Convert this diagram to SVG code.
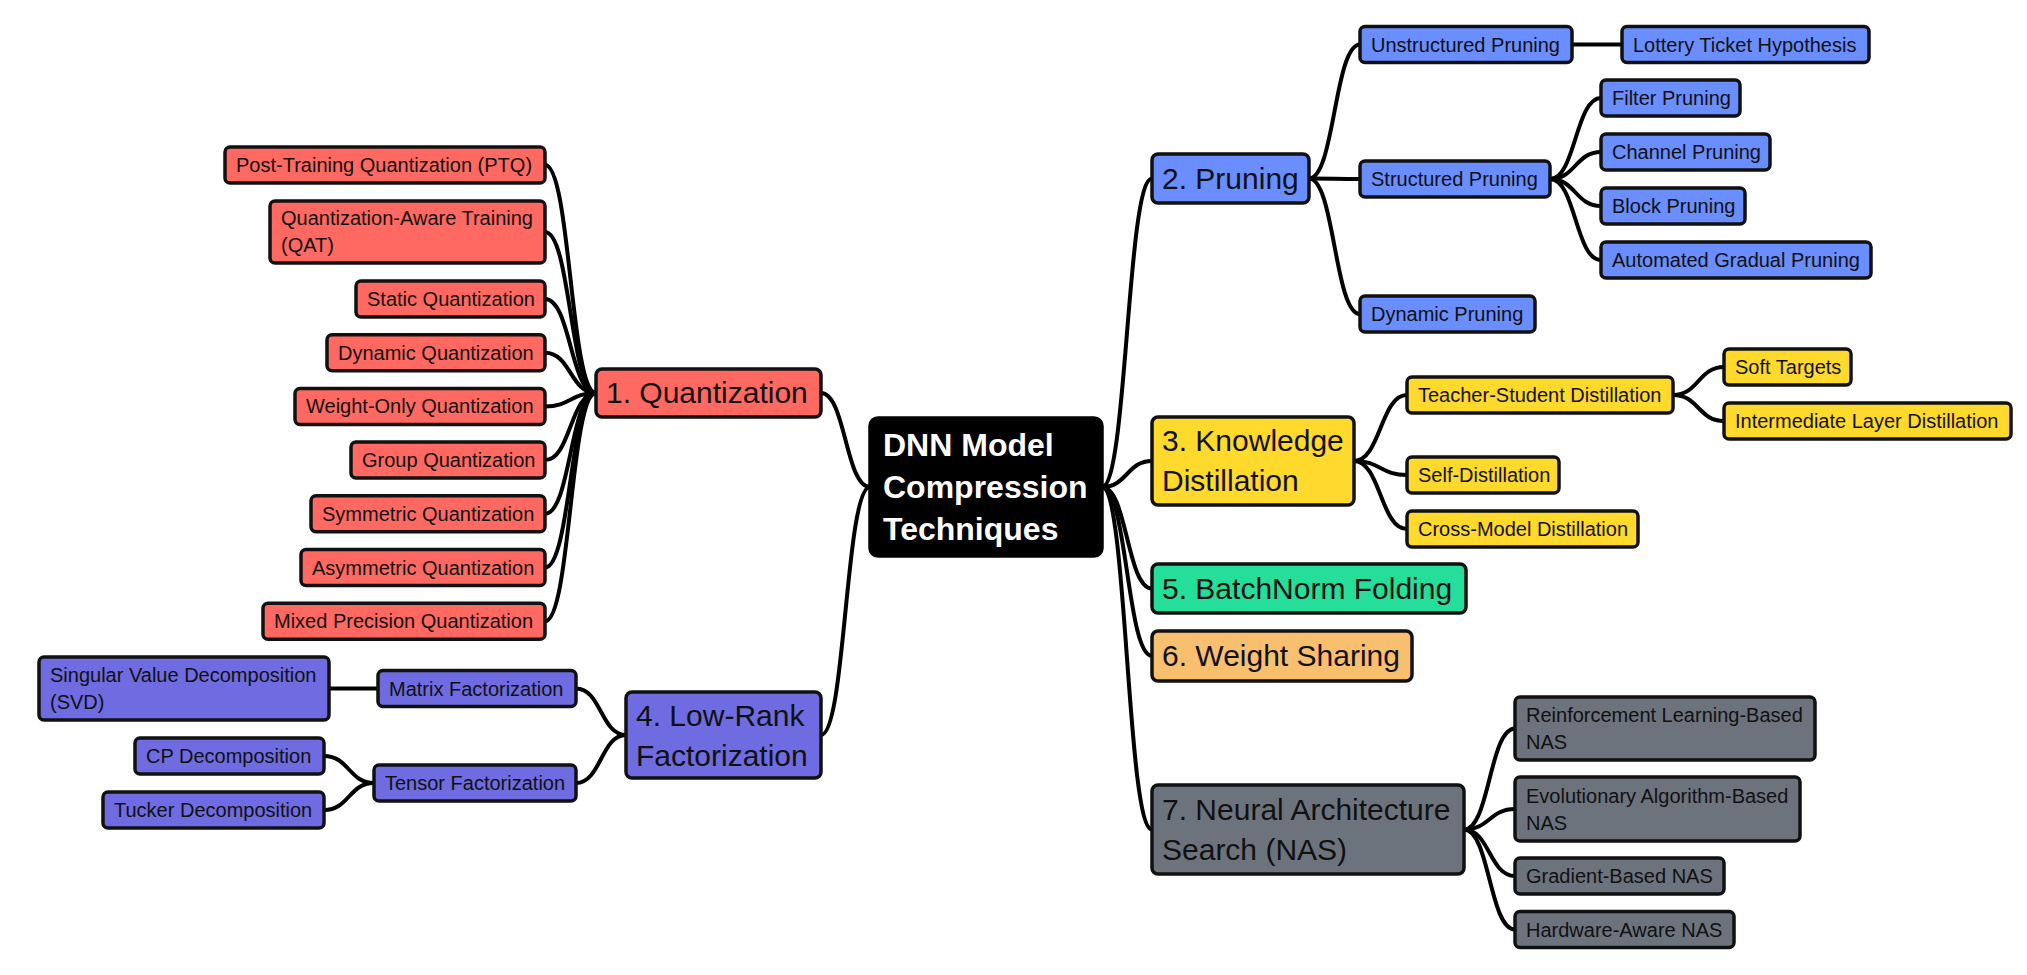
<svg xmlns="http://www.w3.org/2000/svg" width="2027" height="975" viewBox="0 0 2027 975">
<style>
  .bg{fill:#ffffff}
  .e path{fill:none;stroke:#000;stroke-width:4;stroke-linecap:round}
  rect{stroke:#111;stroke-width:3.5}
  text{font-family:"Liberation Sans",Arial,sans-serif;fill:#111}
  .l{font-size:20px}
  .m{font-size:30px}
  .root rect{fill:#000;stroke:#000}
  .root text{fill:#fff;font-size:32px;font-weight:bold}
  .red rect{fill:#ff6961}
  .blue rect{fill:#6a8dff}
  .yel rect{fill:#ffd92b}
  .teal rect{fill:#24de9a}
  .org rect{fill:#f8bf6f}
  .gray rect{fill:#6c737d}
  .pur rect{fill:#6f6be0}
</style>
<rect class="bg" x="0" y="0" width="2027" height="975" style="stroke:none"/>
<g class="e" id="connectors">
  <path d="M1102,487 C1127,487 1127,178.5 1152,178.5"/>
  <path d="M1102,487 C1127,487 1127,461 1152,461"/>
  <path d="M1102,487 C1127,487 1127,588.5 1152,588.5"/>
  <path d="M1102,487 C1127,487 1127,656 1152,656"/>
  <path d="M1102,487 C1127,487 1127,829.5 1152,829.5"/>
  <path d="M870,487 C845.5,487 845.5,393 821,393"/>
  <path d="M870,487 C845.5,487 845.5,735 821,735"/>
  <path d="M596,393 C570.5,393 570.5,165 545,165"/>
  <path d="M596,393 C570.5,393 570.5,232 545,232"/>
  <path d="M596,393 C570.5,393 570.5,299 545,299"/>
  <path d="M596,393 C570.5,393 570.5,352.7 545,352.7"/>
  <path d="M596,393 C570.5,393 570.5,406.4 545,406.4"/>
  <path d="M596,393 C570.5,393 570.5,460.1 545,460.1"/>
  <path d="M596,393 C570.5,393 570.5,513.8 545,513.8"/>
  <path d="M596,393 C570.5,393 570.5,567.5 545,567.5"/>
  <path d="M596,393 C570.5,393 570.5,621.2 545,621.2"/>
  <path d="M626,735 C601,735 601,688.5 576,688.5"/>
  <path d="M626,735 C601,735 601,783 576,783"/>
  <path d="M374,783 C349,783 349,756 324,756"/>
  <path d="M374,783 C349,783 349,810 324,810"/>
  <path d="M378,688.5 L329,688.5"/>
  <path d="M1309,178.5 C1334.5,178.5 1334.5,44.5 1360,44.5"/>
  <path d="M1309,178.5 C1334.5,178.5 1334.5,179 1360,179"/>
  <path d="M1309,178.5 C1334.5,178.5 1334.5,314 1360,314"/>
  <path d="M1572,44.5 L1622,44.5"/>
  <path d="M1550,179 C1575.5,179 1575.5,98 1601,98"/>
  <path d="M1550,179 C1575.5,179 1575.5,152 1601,152"/>
  <path d="M1550,179 C1575.5,179 1575.5,206 1601,206"/>
  <path d="M1550,179 C1575.5,179 1575.5,260 1601,260"/>
  <path d="M1354,461 C1380.5,461 1380.5,395 1407,395"/>
  <path d="M1354,461 C1380.5,461 1380.5,475 1407,475"/>
  <path d="M1354,461 C1380.5,461 1380.5,529 1407,529"/>
  <path d="M1673,395 C1698.5,395 1698.5,367 1724,367"/>
  <path d="M1673,395 C1698.5,395 1698.5,421 1724,421"/>
  <path d="M1464,829.5 C1489.5,829.5 1489.5,728.5 1515,728.5"/>
  <path d="M1464,829.5 C1489.5,829.5 1489.5,809 1515,809"/>
  <path d="M1464,829.5 C1489.5,829.5 1489.5,876 1515,876"/>
  <path d="M1464,829.5 C1489.5,829.5 1489.5,929.5 1515,929.5"/>
</g>
<g id="root" class="root"><rect x="870" y="418" width="232" height="138" rx="8"/><text x="883" y="456">DNN Model</text><text x="883" y="498">Compression</text><text x="883" y="540">Techniques</text></g>

<g id="quantization" class="red"><rect x="596" y="369" width="225" height="48" rx="6"/><text class="m" x="606" y="403">1. Quantization</text></g>
<g id="ptq" class="red"><rect x="225" y="147" width="320" height="36" rx="5"/><text class="l" x="236" y="172">Post-Training Quantization (PTQ)</text></g>
<g id="qat" class="red"><rect x="270" y="201" width="275" height="62" rx="5"/><text class="l" x="281" y="225">Quantization-Aware Training</text><text class="l" x="281" y="252">(QAT)</text></g>
<g id="static" class="red"><rect x="356" y="281" width="189" height="36" rx="5"/><text class="l" x="367" y="306">Static Quantization</text></g>
<g id="dynamicq" class="red"><rect x="327" y="334.7" width="218" height="36" rx="5"/><text class="l" x="338" y="359.7">Dynamic Quantization</text></g>
<g id="weightonly" class="red"><rect x="295" y="388.4" width="250" height="36" rx="5"/><text class="l" x="306" y="413.4">Weight-Only Quantization</text></g>
<g id="group" class="red"><rect x="351" y="442.1" width="194" height="36" rx="5"/><text class="l" x="362" y="467.1">Group Quantization</text></g>
<g id="symmetric" class="red"><rect x="311" y="495.8" width="234" height="36" rx="5"/><text class="l" x="322" y="520.8">Symmetric Quantization</text></g>
<g id="asymmetric" class="red"><rect x="301" y="549.5" width="244" height="36" rx="5"/><text class="l" x="312" y="574.5">Asymmetric Quantization</text></g>
<g id="mixed" class="red"><rect x="263" y="603.2" width="282" height="36" rx="5"/><text class="l" x="274" y="628.2">Mixed Precision Quantization</text></g>

<g id="lowrank" class="pur"><rect x="626" y="692" width="195" height="86" rx="6"/><text class="m" x="636" y="725.5">4. Low-Rank</text><text class="m" x="636" y="765.5">Factorization</text></g>
<g id="matrix" class="pur"><rect x="378" y="670.5" width="198" height="36" rx="5"/><text class="l" x="389" y="695.5">Matrix Factorization</text></g>
<g id="tensor" class="pur"><rect x="374" y="765" width="202" height="36" rx="5"/><text class="l" x="385" y="790">Tensor Factorization</text></g>
<g id="svd" class="pur"><rect x="39" y="657" width="290" height="63" rx="5"/><text class="l" x="50" y="682">Singular Value Decomposition</text><text class="l" x="50" y="709">(SVD)</text></g>
<g id="cp" class="pur"><rect x="135" y="738" width="189" height="36" rx="5"/><text class="l" x="146" y="763">CP Decomposition</text></g>
<g id="tucker" class="pur"><rect x="103" y="792" width="221" height="36" rx="5"/><text class="l" x="114" y="817">Tucker Decomposition</text></g>

<g id="pruning" class="blue"><rect x="1152" y="154" width="157" height="49" rx="6"/><text class="m" x="1162" y="189">2. Pruning</text></g>
<g id="unstructured" class="blue"><rect x="1360" y="26.5" width="212" height="36" rx="5"/><text class="l" x="1371" y="51.5">Unstructured Pruning</text></g>
<g id="lottery" class="blue"><rect x="1622" y="26.5" width="247" height="36" rx="5"/><text class="l" x="1633" y="51.5">Lottery Ticket Hypothesis</text></g>
<g id="structured" class="blue"><rect x="1360" y="161" width="190" height="36" rx="5"/><text class="l" x="1371" y="186">Structured Pruning</text></g>
<g id="filter" class="blue"><rect x="1601" y="80" width="139" height="36" rx="5"/><text class="l" x="1612" y="105">Filter Pruning</text></g>
<g id="channel" class="blue"><rect x="1601" y="134" width="169" height="36" rx="5"/><text class="l" x="1612" y="159">Channel Pruning</text></g>
<g id="block" class="blue"><rect x="1601" y="188" width="144" height="36" rx="5"/><text class="l" x="1612" y="213">Block Pruning</text></g>
<g id="agp" class="blue"><rect x="1601" y="242" width="270" height="36" rx="5"/><text class="l" x="1612" y="267">Automated Gradual Pruning</text></g>
<g id="dynamicp" class="blue"><rect x="1360" y="296" width="175" height="36" rx="5"/><text class="l" x="1371" y="321">Dynamic Pruning</text></g>

<g id="knowledge" class="yel"><rect x="1152" y="417" width="202" height="88" rx="6"/><text class="m" x="1162" y="451">3. Knowledge</text><text class="m" x="1162" y="491">Distillation</text></g>
<g id="teacher" class="yel"><rect x="1407" y="377" width="266" height="36" rx="5"/><text class="l" x="1418" y="402">Teacher-Student Distillation</text></g>
<g id="soft" class="yel"><rect x="1724" y="349" width="127" height="36" rx="5"/><text class="l" x="1735" y="374">Soft Targets</text></g>
<g id="intermediate" class="yel"><rect x="1724" y="403" width="287" height="36" rx="5"/><text class="l" x="1735" y="428">Intermediate Layer Distillation</text></g>
<g id="self" class="yel"><rect x="1407" y="457" width="152" height="36" rx="5"/><text class="l" x="1418" y="482">Self-Distillation</text></g>
<g id="cross" class="yel"><rect x="1407" y="511" width="231" height="36" rx="5"/><text class="l" x="1418" y="536">Cross-Model Distillation</text></g>

<g id="batchnorm" class="teal"><rect x="1152" y="564" width="314" height="49" rx="6"/><text class="m" x="1162" y="599">5. BatchNorm Folding</text></g>
<g id="weightsharing" class="org"><rect x="1152" y="631" width="260" height="50" rx="6"/><text class="m" x="1162" y="666">6. Weight Sharing</text></g>

<g id="nas" class="gray"><rect x="1152" y="785" width="312" height="89" rx="6"/><text class="m" x="1162" y="819.5">7. Neural Architecture</text><text class="m" x="1162" y="859.5">Search (NAS)</text></g>
<g id="rl" class="gray"><rect x="1515" y="697" width="300" height="63" rx="5"/><text class="l" x="1526" y="722">Reinforcement Learning-Based</text><text class="l" x="1526" y="749">NAS</text></g>
<g id="evo" class="gray"><rect x="1515" y="777" width="285" height="64" rx="5"/><text class="l" x="1526" y="802.5">Evolutionary Algorithm-Based</text><text class="l" x="1526" y="829.5">NAS</text></g>
<g id="gradient" class="gray"><rect x="1515" y="858" width="209" height="36" rx="5"/><text class="l" x="1526" y="883">Gradient-Based NAS</text></g>
<g id="hardware" class="gray"><rect x="1515" y="911.5" width="219" height="36" rx="5"/><text class="l" x="1526" y="936.5">Hardware-Aware NAS</text></g>
</svg>
